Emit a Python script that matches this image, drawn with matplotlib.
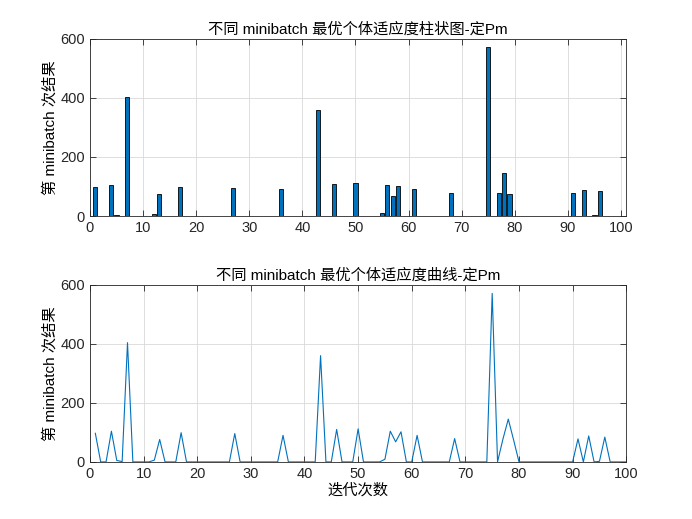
import numpy as np
import matplotlib
matplotlib.use('Agg')
import matplotlib.pyplot as plt

plt.rcParams['font.family'] = ['Liberation Sans', 'Noto Sans CJK SC', 'DejaVu Sans']

# best fitness per minibatch (iterations 1..100)
iters = np.arange(1, 101)
fitness = np.zeros(100)
peaks = {1: 97, 4: 104, 5: 5, 6: 1, 7: 404, 12: 6, 13: 76, 17: 99, 27: 96,
         36: 90, 43: 360, 46: 110, 50: 112, 55: 9, 56: 104, 57: 68, 58: 102,
         61: 90, 68: 79, 75: 571, 77: 77, 78: 145, 79: 74, 91: 78, 93: 88,
         95: 2, 96: 84}
for k, val in peaks.items():
    fitness[k - 1] = val

title_top = '不同 minibatch 最优个体适应度柱状图-定Pm'
title_bottom = '不同 minibatch 最优个体适应度曲线-定Pm'
ylab = '第 minibatch 次结果'
xlab = '迭代次数'
xticks = np.arange(0, 101, 10)
yticks = [0, 200, 400, 600]

matlab_blue = '#0072BD'
axis_gray = '#262626'

fig = plt.figure(figsize=(6.92, 5.19), dpi=100)
ax1 = fig.add_axes([0.13, 0.5838, 0.775, 0.3412])
ax2 = fig.add_axes([0.13, 0.11, 0.775, 0.3412])


def matlab_style(ax):
    ax.set_yticks(yticks)
    ax.set_xticks(xticks)
    ax.grid(True, color='#d9d9d9', linewidth=0.6)
    ax.set_axisbelow(True)
    ax.tick_params(direction='in', top=True, right=True, length=4,
                   width=0.6, colors=axis_gray, labelsize=10.5)
    for sp in ax.spines.values():
        sp.set_color(axis_gray)
        sp.set_linewidth(0.6)


ax1.bar(iters, fitness, width=0.8, color=matlab_blue, edgecolor='black',
        linewidth=0.6)
ax1.set_xlim(0, 101)
ax1.set_ylim(0, 600)
matlab_style(ax1)
ax1.set_title(title_top, fontsize=11, color='black', pad=4)
ax1.set_ylabel(ylab, fontsize=11, color='black', labelpad=2)

ax2.plot(iters, fitness, color=matlab_blue, linewidth=0.8)
ax2.set_xlim(0, 100)
ax2.set_ylim(0, 600)
matlab_style(ax2)
ax2.set_title(title_bottom, fontsize=11, color='black', pad=4)
ax2.set_ylabel(ylab, fontsize=11, color='black', labelpad=2)
ax2.set_xlabel(xlab, fontsize=11, color='black', labelpad=2)

fig.savefig('out.png', dpi=100)
